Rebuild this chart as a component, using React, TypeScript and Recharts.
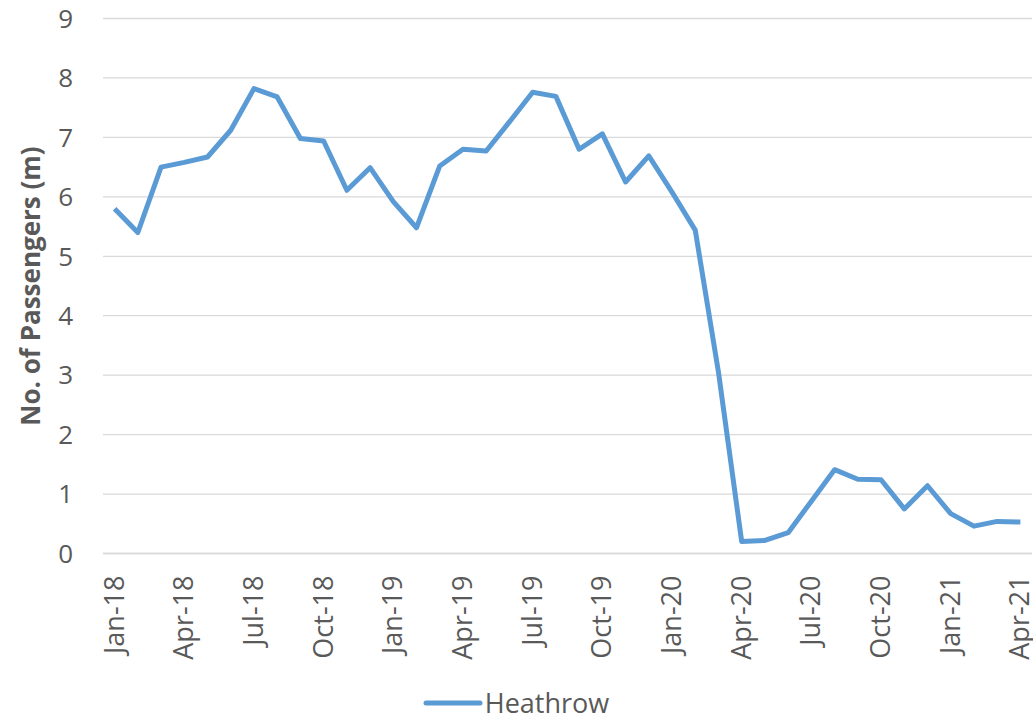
import React from 'react';
import { LineChart, Line, XAxis, YAxis, CartesianGrid, Legend } from 'recharts';

// Monthly passenger numbers at Heathrow, millions
const months = [
  'Jan-18', 'Feb-18', 'Mar-18', 'Apr-18', 'May-18', 'Jun-18', 'Jul-18', 'Aug-18', 'Sep-18', 'Oct-18', 'Nov-18', 'Dec-18',
  'Jan-19', 'Feb-19', 'Mar-19', 'Apr-19', 'May-19', 'Jun-19', 'Jul-19', 'Aug-19', 'Sep-19', 'Oct-19', 'Nov-19', 'Dec-19',
  'Jan-20', 'Feb-20', 'Mar-20', 'Apr-20', 'May-20', 'Jun-20', 'Jul-20', 'Aug-20', 'Sep-20', 'Oct-20', 'Nov-20', 'Dec-20',
  'Jan-21', 'Feb-21', 'Mar-21', 'Apr-21',
];

const heathrow = [
  5.80, 5.40, 6.50, 6.58, 6.67, 7.12, 7.82, 7.68, 6.98, 6.94, 6.11, 6.49,
  5.92, 5.48, 6.52, 6.80, 6.77, 7.26, 7.76, 7.69, 6.80, 7.06, 6.25, 6.69,
  6.08, 5.44, 3.05, 0.20, 0.22, 0.35, 0.88, 1.41, 1.25, 1.24, 0.75, 1.14,
  0.67, 0.46, 0.54, 0.53,
];

const yTicks = [0, 1, 2, 3, 4, 5, 6, 7, 8, 9];

const data = months.map((month, i) => ({ month, Heathrow: heathrow[i] }));

const FONT = '"Open Sans", sans-serif';
const TEXT = '#595959';
const GRID = '#d9d9d9';
const BLUE = '#5B9BD5';

const MonthTick = (props: any) => {
  const { x, y, payload } = props;
  const ty = y + 14;
  return (
    <text
      x={x}
      y={ty}
      transform={`rotate(-90, ${x}, ${ty})`}
      textAnchor="end"
      dy="0.33em"
      fontFamily={FONT}
      fontSize={27}
      fill={TEXT}
    >
      {payload.value}
    </text>
  );
};

const YTitle = (props: any) => {
  const { viewBox } = props;
  const cx = 31;
  const cy = viewBox.y + viewBox.height / 2;
  return (
    <text
      x={cx}
      y={cy}
      transform={`rotate(-90, ${cx}, ${cy})`}
      textAnchor="middle"
      dy="0.36em"
      fontFamily={FONT}
      fontSize={26}
      fontWeight="bold"
      fill={TEXT}
    >
      No. of Passengers (m)
    </text>
  );
};

const LegendContent = () => (
  <div
    style={{
      height: 40,
      display: 'flex',
      justifyContent: 'center',
      alignItems: 'center',
      paddingTop: 8,
      boxSizing: 'border-box',
      fontFamily: FONT,
      fontSize: 27,
      lineHeight: '30px',
      color: TEXT,
    }}
  >
    <svg width={60} height={10} style={{ marginRight: 2 }}>
      <line x1={3} y1={5} x2={57} y2={5} stroke={BLUE} strokeWidth={5} strokeLinecap="round" />
    </svg>
    <span>Heathrow</span>
  </div>
);

export default function App() {
  return (
    <div style={{ position: 'absolute', left: 0, top: 0, background: '#fff' }}>
      <LineChart width={1033} height={719} data={data} margin={{ top: 18.5, right: 1, bottom: 0, left: 0 }}>
        <CartesianGrid vertical={false} stroke={GRID} strokeWidth={1.3} />
        <XAxis
          dataKey="month"
          interval={2}
          tickLine={false}
          axisLine={{ stroke: GRID, strokeWidth: 1.3 }}
          padding={{ left: 11.6, right: 11.6 }}
          height={125.5}
          tick={<MonthTick />}
        />
        <YAxis
          width={103}
          domain={[0, 9]}
          ticks={yTicks}
          axisLine={false}
          tickLine={false}
          tickSize={0}
          tickMargin={30}
          tick={{ fontFamily: FONT, fontSize: 26, fill: TEXT }}
          label={<YTitle />}
        />
        <Legend verticalAlign="bottom" height={40} content={<LegendContent />} />
        <Line
          type="linear"
          dataKey="Heathrow"
          stroke={BLUE}
          strokeWidth={5}
          dot={false}
          strokeLinejoin="round"
          isAnimationActive={false}
        />
      </LineChart>
    </div>
  );
}
